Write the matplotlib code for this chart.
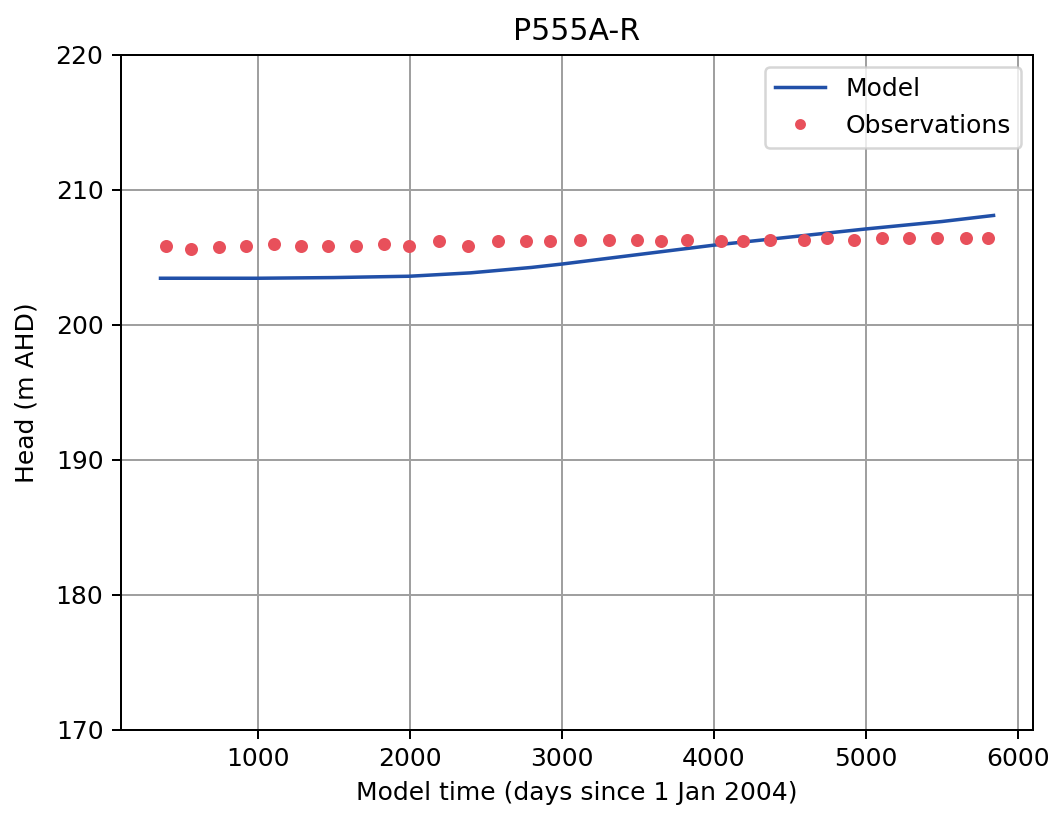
import numpy as np
import matplotlib.pyplot as plt

# Observed heads (days since 1 Jan 2004, m AHD)
obs_days = [396, 563, 742, 924, 1104, 1286, 1465, 1648, 1832, 1994,
            2193, 2382, 2579, 2763, 2923, 3118, 3311, 3493, 3650, 3826,
            4047, 4190, 4370, 4595, 4742, 4924, 5108, 5284, 5466, 5658, 5801]
obs_head = [205.85, 205.6, 205.75, 205.85, 206.0, 205.85, 205.85, 205.85, 206.0, 205.85,
            206.2, 205.85, 206.2, 206.2, 206.2, 206.3, 206.3, 206.3, 206.2, 206.3,
            206.2, 206.2, 206.3, 206.3, 206.45, 206.3, 206.45, 206.45, 206.45, 206.45, 206.45]

# Modelled heads
model_days = [360, 1000, 1500, 2000, 2400, 2800, 3000, 3500, 4000, 4500, 5000, 5500, 5840]
model_head = [203.45, 203.45, 203.5, 203.6, 203.85, 204.25, 204.5, 205.2, 205.9, 206.5, 207.1, 207.65, 208.1]

dpi = 180
fig = plt.figure(figsize=(1052 / dpi, 817 / dpi), dpi=dpi)
ax = fig.add_axes([0.115, 0.1065, 0.867, 0.8265])

ax.plot(model_days, model_head, color='#2150a8', lw=1.4, label='Model')
ax.plot(obs_days, obs_head, 'o', color='#e8505b', ms=4.2, label='Observations')

ax.set_xlim(100, 6100)
ax.set_ylim(170, 220)
ax.set_xticks([1000, 2000, 3000, 4000, 5000, 6000])
ax.set_yticks([170, 180, 190, 200, 210, 220])
ax.grid(True, color='#a0a0a0', lw=0.8)

ax.set_title('P555A-R')
ax.set_xlabel('Model time (days since 1 Jan 2004)')
ax.set_ylabel('Head (m AHD)', labelpad=7)
ax.legend(loc='upper right', markerscale=0.8)

plt.savefig('out.png', dpi=dpi)
